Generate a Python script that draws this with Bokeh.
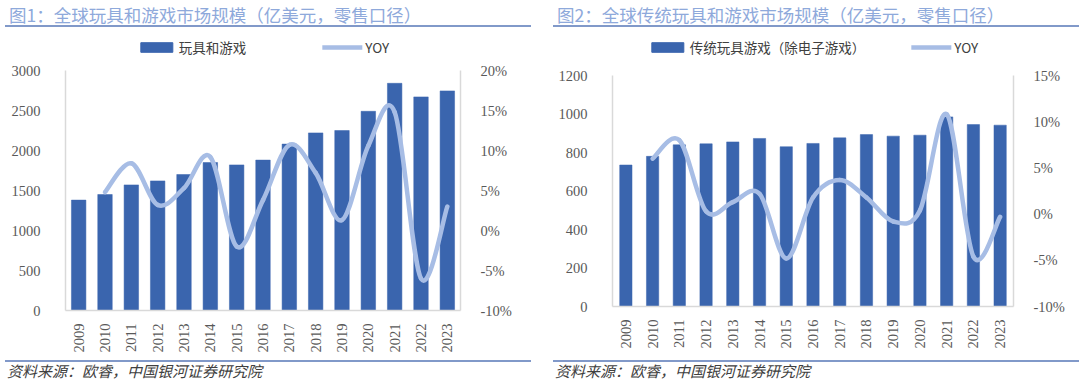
from bokeh.plotting import figure
from bokeh.models import (Range1d, LinearAxis, FixedTicker, PrintfTickFormatter,
                          Legend, LegendItem, Div)
from bokeh.layouts import column, row
from bokeh.embed import file_html
from bokeh.resources import INLINE
import math

# ---------------- data ----------------
years = [str(y) for y in range(2009, 2024)]

# Figure 1: global toys & games market size (100M USD)
left_sales = [1380, 1450, 1570, 1620, 1700, 1850, 1820, 1880, 2080, 2220, 2250, 2490, 2840, 2670, 2745]
# YOY (%) for 2010-2023
left_yoy = [4.8, 8.4, 3.2, 5.3, 9.2, -2.0, 3.8, 10.7, 7.2, 1.3, 10.6, 14.8, -6.0, 3.0]

# Figure 2: traditional toys & games (excl. video games)
right_sales = [735, 780, 840, 845, 855, 873, 830, 847, 876, 893, 885, 890, 985, 945, 942]
right_yoy = [6.0, 8.0, 0.3, 1.3, 2.2, -4.8, 1.8, 3.7, 1.8, -0.8, 0.4, 10.8, -4.6, -0.3]

left_title = "图1：全球玩具和游戏市场规模（亿美元，零售口径）"
right_title = "图2：全球传统玩具和游戏市场规模（亿美元，零售口径）"
left_bar_label = "玩具和游戏"
right_bar_label = "传统玩具游戏（除电子游戏）"
line_label = "YOY"
source_text = "资料来源：欧睿，中国银河证券研究院"

# ---------------- style ----------------
BAR_COLOR = "#3A65AE"
LINE_COLOR = "#A7BDE5"
TITLE_COLOR = "#8EA9DB"
RULE_COLOR = "#8199C9"
AXIS_COLOR = "#D9D9D9"
TEXT_COLOR = "#595959"
CJK = "Noto Sans CJK SC"
NUM = "Liberation Serif"
PANEL_W = 526
LINE_W = 4.5


def bezier_segments(xs, ys, t=1.0 / 6.0):
    n = len(xs)
    out = dict(x0=[], y0=[], x1=[], y1=[], cx0=[], cy0=[], cx1=[], cy1=[])
    for i in range(n - 1):
        a = i - 1 if i > 0 else i
        d = i + 2 if i + 2 < n else i + 1
        out["x0"].append(xs[i]); out["y0"].append(ys[i])
        out["x1"].append(xs[i + 1]); out["y1"].append(ys[i + 1])
        out["cx0"].append(xs[i] + (xs[i + 1] - xs[a]) * t)
        out["cy0"].append(ys[i] + (ys[i + 1] - ys[a]) * t)
        out["cx1"].append(xs[i + 1] - (xs[d] - xs[i]) * t)
        out["cy1"].append(ys[i + 1] - (ys[d] - ys[i]) * t)
    return out


def make_legend_fig(bar_label, sales, yoy, gap, shift_l, shift_r):
    # legend-only strip: the series are drawn here too, but the view range
    # lies far above them so only the legend swatches are visible
    xs = list(range(len(years)))
    lf = figure(width=PANEL_W, height=30, output_backend="svg", toolbar_location=None,
                x_range=Range1d(-0.5, len(years) - 0.5), y_range=Range1d(1e6, 1e6 + 1),
                x_axis_location=None, y_axis_location=None,
                min_border_left=shift_l, min_border_right=shift_r,
                min_border_top=0, min_border_bottom=0)
    lf.outline_line_color = None
    lf.xgrid.visible = False
    lf.ygrid.visible = False
    b = lf.vbar(x=xs, top=sales, width=0.5, fill_color=BAR_COLOR, line_color=BAR_COLOR)
    l = lf.line(x=xs[1:], y=yoy, line_color=LINE_COLOR, line_width=LINE_W, line_cap="round")
    legend = Legend(items=[LegendItem(label=bar_label, renderers=[b], index=0),
                           LegendItem(label=line_label, renderers=[l], index=0)],
                    orientation="horizontal", location="center",
                    border_line_color=None, background_fill_alpha=0,
                    label_text_font=CJK, label_text_font_size="13.5px",
                    label_text_color="#404040", glyph_width=40, glyph_height=12,
                    spacing=gap, label_standoff=3, padding=0, margin=0)
    lf.add_layout(legend, "center")
    return lf


def make_panel(title, bar_label, sales, yoy, y_max, y_step, yoy_min, yoy_max,
               border_left, border_right, top_pad, frame_h, bottom_pad, bar_w,
               legend_gap, legend_shift_l, legend_shift_r):
    p = figure(width=PANEL_W, height=top_pad + frame_h + bottom_pad,
               output_backend="svg", toolbar_location=None,
               x_range=Range1d(-0.5, len(years) - 0.5), y_range=Range1d(0, y_max),
               min_border_left=border_left, min_border_right=border_right,
               min_border_top=top_pad, min_border_bottom=bottom_pad)
    p.outline_line_color = None
    p.xgrid.visible = False
    p.ygrid.visible = False
    p.extra_y_ranges = {"yoy": Range1d(yoy_min, yoy_max)}

    xs = list(range(len(years)))
    p.vbar(x=xs, top=sales, width=bar_w, bottom=0,
           fill_color=BAR_COLOR, line_color=BAR_COLOR, line_width=0.5)
    seg = bezier_segments(xs[1:], yoy)
    p.bezier(line_color=LINE_COLOR, line_width=LINE_W, line_cap="round",
             y_range_name="yoy", **seg)

    xa = p.xaxis[0]
    xa.ticker = FixedTicker(ticks=xs)
    xa.major_label_overrides = {i: y for i, y in enumerate(years)}
    xa.major_label_orientation = math.pi / 2
    xa.major_label_standoff = 7
    ya = p.yaxis[0]
    ya.ticker = FixedTicker(ticks=list(range(0, y_max + 1, y_step)))
    ya.major_label_standoff = 19
    ra = LinearAxis(y_range_name="yoy",
                    ticker=FixedTicker(ticks=list(range(yoy_min, yoy_max + 1, 5))),
                    formatter=PrintfTickFormatter(format="%d%%"))
    ra.major_label_standoff = 14
    p.add_layout(ra, "right")
    for ax in (xa, ya, ra):
        ax.axis_line_color = AXIS_COLOR
        ax.axis_line_width = 1.5
        ax.major_tick_line_color = None
        ax.minor_tick_line_color = None
        ax.major_label_text_font = NUM
        ax.major_label_text_font_size = "14.5px"
        ax.major_label_text_color = TEXT_COLOR

    head = Div(text=('<div style="font-family:\'%s\';font-size:17.5px;color:%s;'
                     'line-height:19px;white-space:nowrap;">%s</div>') % (CJK, TITLE_COLOR, title),
               width=PANEL_W, height=22,
               styles={"border-bottom": "2px solid " + RULE_COLOR,
                       "box-sizing": "border-box", "padding-left": "4px",
                       "width": str(PANEL_W) + "px", "height": "22px"})
    foot = Div(text=('<div style="font-family:\'%s\';font-size:15px;color:#404040;'
                     'font-style:italic;line-height:18px;white-space:nowrap;">%s</div>') % (CJK, source_text),
               width=PANEL_W, height=20,
               styles={"border-top": "2px solid " + RULE_COLOR,
                       "box-sizing": "border-box", "padding-left": "2px",
                       "width": str(PANEL_W) + "px", "height": "20px"})
    lf = make_legend_fig(bar_label, sales, yoy, legend_gap, legend_shift_l, legend_shift_r)
    return column(head, lf, p, foot, spacing=0)


left = make_panel(left_title, left_bar_label, left_sales, left_yoy, 3000, 500, -10, 20,
                  65, 66, 8, 243, 42, 0.55, 76, 14, 0)
right = make_panel(right_title, right_bar_label, right_sales, right_yoy, 1200, 200, -10, 15,
                   64, 61, 13, 231, 49, 0.46, 46, 0, 18)

page = row(left, right, spacing=12)
open("out.html", "w").write(file_html(page, INLINE))
